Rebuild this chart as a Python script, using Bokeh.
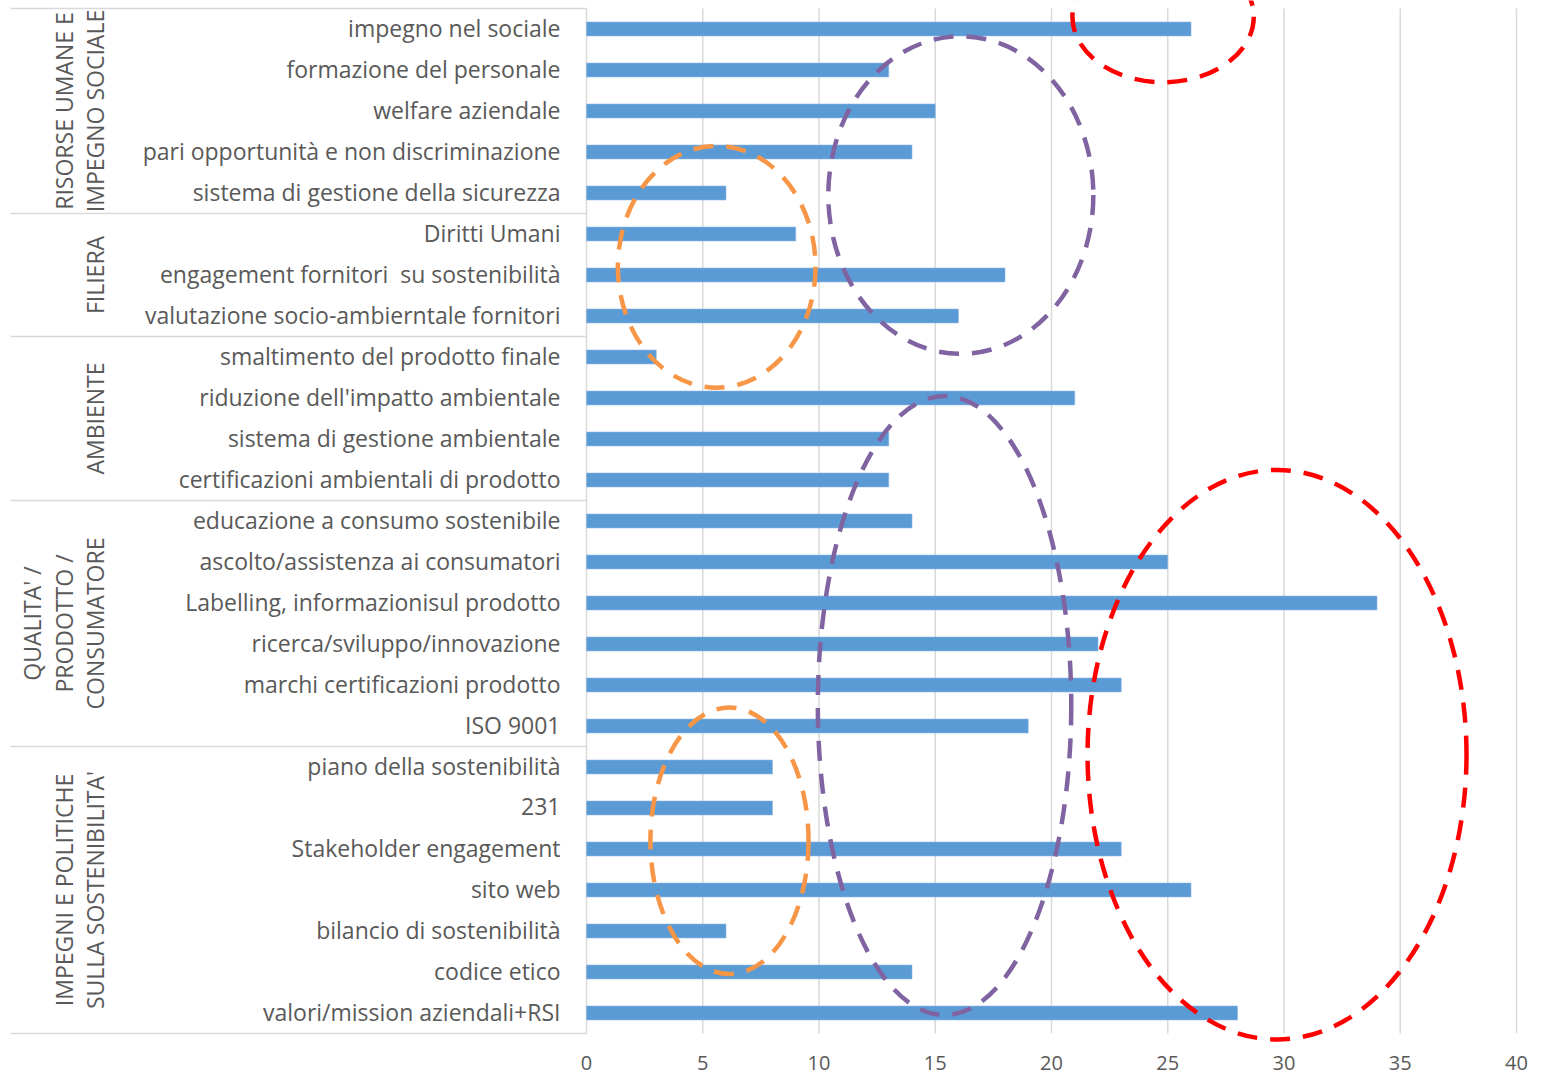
import math
from bokeh.plotting import figure
from bokeh.models import Range1d, ColumnDataSource
from bokeh.core.properties import value
from bokeh.embed import file_html
from bokeh.resources import INLINE

# ---- data -------------------------------------------------------------
categories = [
    "impegno nel sociale",
    "formazione del personale",
    "welfare aziendale",
    "pari opportunità e non discriminazione",
    "sistema di gestione della sicurezza",
    "Diritti Umani",
    "engagement fornitori  su sostenibilità",
    "valutazione socio-ambierntale fornitori",
    "smaltimento del prodotto finale",
    "riduzione dell'impatto ambientale",
    "sistema di gestione ambientale",
    "certificazioni ambientali di prodotto",
    "educazione a consumo sostenibile",
    "ascolto/assistenza ai consumatori",
    "Labelling, informazionisul prodotto",
    "ricerca/sviluppo/innovazione",
    "marchi certificazioni prodotto",
    "ISO 9001",
    "piano della sostenibilità",
    "231",
    "Stakeholder engagement",
    "sito web",
    "bilancio di sostenibilità",
    "codice etico",
    "valori/mission aziendali+RSI",
]
counts = [26, 13, 15, 14, 6, 9, 18, 16, 3, 21, 13, 13, 14, 25, 34, 22, 23, 19,
          8, 8, 23, 26, 6, 14, 28]

group_names = [
    ["RISORSE UMANE E", "IMPEGNO SOCIALE"],
    ["FILIERA"],
    ["AMBIENTE"],
    ["QUALITA' /", "PRODOTTO /", "CONSUMATORE"],
    ["IMPEGNI E POLITICHE", "SULLA SOSTENIBILITA'"],
]
group_sizes = [5, 3, 4, 6, 7]

x_ticks = [0, 5, 10, 15, 20, 25, 30, 35, 40]
x_tick_labels = ["0", "5", "10", "15", "20", "25", "30", "35", "40"]

# highlight rings: (centre value, centre row, width in values, height in rows, colour)
rings = [
    (24.8, -0.3, 7.8, 3.2, "#ff0000"),
    (16.1, 4.05, 11.4, 7.75, "#8064a2"),
    (5.6, 5.8, 8.5, 5.9, "#f79646"),
    (15.4, 16.5, 10.9, 15.1, "#8064a2"),
    (29.7, 17.7, 16.3, 13.9, "#ff0000"),
    (6.15, 19.8, 6.8, 6.5, "#f79646"),
]

# ---- layout helpers ----------------------------------------------------
n = len(categories)
ypos = [n - 1 - i for i in range(n)]          # first category on top
# keep the doubled space visible in SVG text
shown = [c.replace("  ", " \u00a0") for c in categories]
FONT = "Open Sans"
GREY_TEXT = "#595959"
GRID = "#d9d9d9"
ROW_PX = 41

p = figure(
    frame_width=1542, frame_height=1074,
    x_range=Range1d(-25.204, 41.118),
    y_range=Range1d(n - 0.5 - 1066 / ROW_PX, n - 0.5 + 8 / ROW_PX),
    output_backend="svg", toolbar_location=None,
    x_axis_location=None, y_axis_location=None,
    min_border_left=0, min_border_right=0, min_border_top=0, min_border_bottom=0,
)
p.outline_line_color = None
p.xgrid.visible = False
p.ygrid.visible = False

# vertical value grid lines (0 doubles as the category axis line)
p.segment(x0=x_ticks, x1=x_ticks, y0=[-0.5] * len(x_ticks), y1=[n - 0.5] * len(x_ticks),
          line_color=GRID, line_width=1.5)

# value tick labels under the grid
p.text(x=x_ticks, y=[-0.5] * len(x_ticks), text=x_tick_labels, y_offset=29,
       text_align="center", text_baseline="middle",
       text_font=value(FONT), text_font_size="20px", text_color=GREY_TEXT)

# group separators across the label column
bounds = [0]
for s in group_sizes:
    bounds.append(bounds[-1] + s)
sep_y = [n - 0.5 - b for b in bounds]
p.segment(x0=[-24.77] * len(sep_y), x1=[0] * len(sep_y), y0=sep_y, y1=sep_y,
          line_color=GRID, line_width=1.5)

# bars
src = ColumnDataSource(dict(y=ypos, v=counts, name=shown))
p.hbar(y="y", left=0, right="v", height=0.34, source=src,
       fill_color="#5b9bd5", line_color="#8db7e3", line_width=0.6)

# category labels
p.text(x=0, y="y", text="name", source=src, x_offset=-26, y_offset=-1.5,
       text_align="right", text_baseline="middle",
       text_font=value(FONT), text_font_size="23px", text_color=GREY_TEXT)

# rotated group labels (lines stacked right-aligned toward the category labels)
line_offsets = [-491, -522, -554]
gx, gy, gt, goff = [], [], [], []
start = 0
for names, size in zip(group_names, group_sizes):
    centre = n - 1 - (start + (size - 1) / 2)
    for k, line in enumerate(reversed(names)):
        gx.append(0)
        gy.append(centre)
        gt.append(line)
        goff.append(line_offsets[k])
    start += size
p.text(x=gx, y=gy, text=gt, x_offset=goff, angle=math.pi / 2,
       text_align="center", text_baseline="middle",
       text_font=value(FONT), text_font_size="23px", text_color=GREY_TEXT)

# dashed highlight rings
for cx, cr, w, h, col in rings:
    p.ellipse(x=[cx], y=[n - 1 - cr], width=[w], height=[h],
              fill_color=None, line_color=col, line_width=4.5, line_dash="20 13")

open("out.html", "w").write(file_html(p, INLINE))
